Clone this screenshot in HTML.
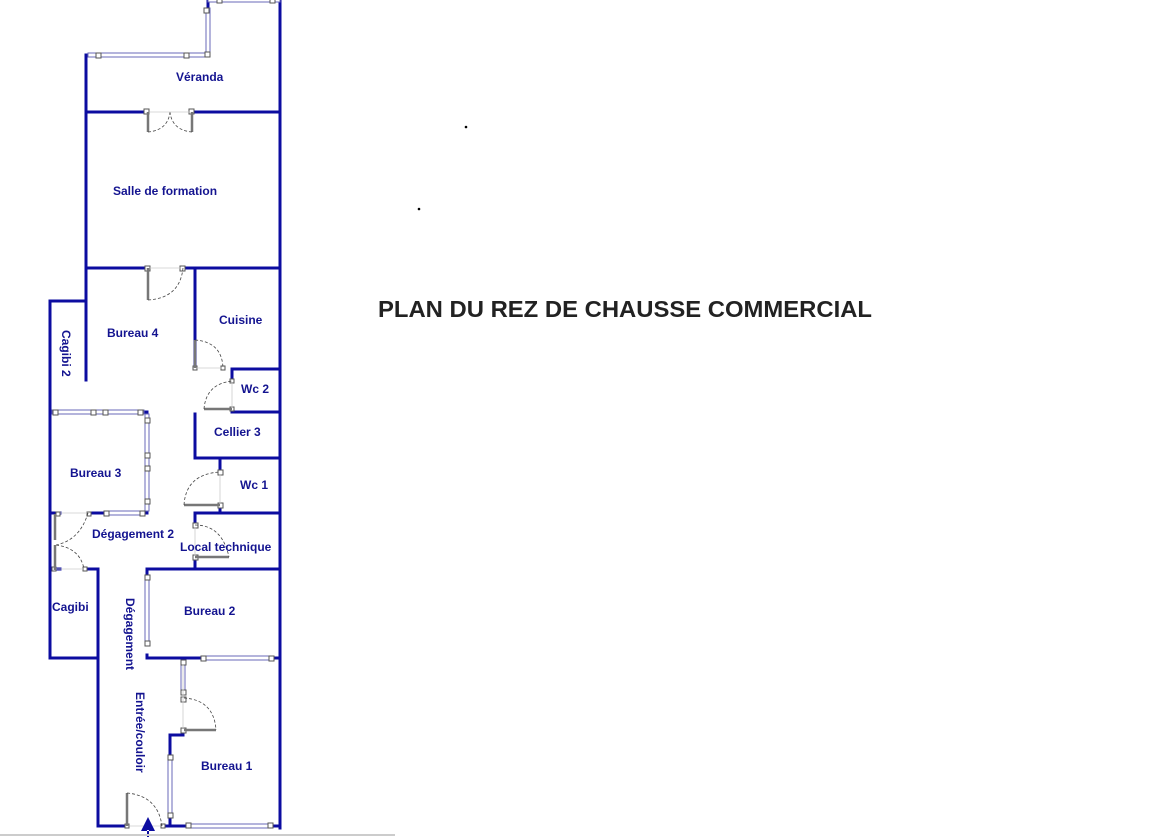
<!DOCTYPE html>
<html><head><meta charset="utf-8"><style>
html,body{margin:0;padding:0;background:#fff;width:1152px;height:837px;overflow:hidden}
svg{display:block}
.w{stroke:#0c0ca0;stroke-width:3;fill:none;stroke-linecap:square}
.win{fill:#fff;stroke:#6a6ab8;stroke-width:1}
.sq{fill:#fff;stroke:#555;stroke-width:1}
.leaf{stroke:#777;stroke-width:2.5;fill:none}
.arc{stroke:#444;stroke-width:0.8;fill:none;stroke-dasharray:3,2}
.thin{stroke:#ccc;stroke-width:0.8}
text.l{font-family:"Liberation Sans",Arial,sans-serif;font-weight:bold;font-size:12px;fill:#141490}
</style></head><body>
<svg width="1152" height="837" viewBox="0 0 1152 837">
<path class="w" d="M280,0 V828 M208,0 V55 M86,55 V380 M86,112 H147 M192,112 H280 M86,268 H148 M183,268 H280
M195,268 V368 M232,369 H280 M232,369 V381 M232,409 V412 H280 M195,414 V458 M195,458 H280 M220,458 V472 M220,505 V513
M195,513 H280 M195,513 V525 M195,557 V569 M147,569 H280 M147,569 V575 M147,655 V658 H280 M184,658 V665
M183,730 V735 H170 V826 M98,826 H128 M162,826 H280
M50,301 H86 M50,301 V658 H98 M98,569 V826 M88,569 H98 M50,569 H60
M50,513 H60 M88,513 H147 M147,412 V513 M50,412 H147"/>
<g>
<rect class="win" x="208" y="-2" width="72" height="4"/>
<rect class="win" x="88" y="53" width="120" height="4"/>
<rect class="win" x="206" y="8" width="4" height="47"/>
<rect class="win" x="52" y="410" width="92" height="4"/>
<rect class="win" x="145" y="414" width="4" height="97"/>
<rect class="win" x="105" y="511" width="40" height="4"/>
<rect class="win" x="145" y="578" width="4" height="66"/>
<rect class="win" x="203" y="656" width="70" height="4"/>
<rect class="win" x="181" y="662" width="4" height="30"/>
<rect class="win" x="168" y="758" width="4" height="58"/>
<rect class="win" x="188" y="824" width="84" height="4"/>
</g>
<g class="sq">
<rect x="217" y="-2" width="5" height="5"/><rect x="270" y="-2" width="5" height="5"/>
<rect x="204" y="8" width="5" height="5"/><rect x="205" y="52" width="5" height="5"/>
<rect x="96" y="53" width="5" height="5"/><rect x="184" y="53" width="5" height="5"/>
<rect x="144" y="109" width="5" height="5"/><rect x="189" y="109" width="5" height="5"/>
<rect x="145" y="266" width="5" height="5"/><rect x="180" y="266" width="5" height="5"/>
<rect x="53" y="410" width="5" height="5"/><rect x="91" y="410" width="5" height="5"/><rect x="103" y="410" width="5" height="5"/><rect x="138" y="410" width="5" height="5"/>
<rect x="145" y="418" width="5" height="5"/><rect x="145" y="453" width="5" height="5"/><rect x="145" y="466" width="5" height="5"/><rect x="145" y="499" width="5" height="5"/>
<rect x="104" y="511" width="5" height="5"/><rect x="140" y="511" width="5" height="5"/>
<rect x="145" y="575" width="5" height="5"/><rect x="145" y="641" width="5" height="5"/>
<rect x="201" y="656" width="5" height="5"/><rect x="269" y="656" width="5" height="5"/>
<rect x="181" y="660" width="5" height="5"/><rect x="181" y="690" width="5" height="5"/><rect x="181" y="697" width="5" height="5"/><rect x="181" y="728" width="5" height="5"/>
<rect x="168" y="755" width="5" height="5"/><rect x="168" y="813" width="5" height="5"/>
<rect x="186" y="823" width="5" height="5"/><rect x="268" y="823" width="5" height="5"/>
<rect x="193" y="366" width="4" height="4"/><rect x="221" y="366" width="4" height="4"/>
<rect x="230" y="379" width="4" height="4"/><rect x="230" y="407" width="4" height="4"/>
<rect x="218" y="470" width="5" height="5"/><rect x="218" y="503" width="5" height="5"/>
<rect x="193" y="523" width="5" height="5"/><rect x="193" y="555" width="5" height="5"/>
<rect x="125" y="824" width="4" height="4"/><rect x="161" y="824" width="4" height="4"/>
<rect x="56" y="512" width="4" height="4"/><rect x="87" y="512" width="4" height="4"/>
<rect x="52" y="567" width="4" height="4"/><rect x="83" y="567" width="4" height="4"/>
</g>
<path class="leaf" d="M148,112 V132 M192,112 V132 M148,268 V300 M195,368 V340 M232,409 H204 M220,505 H184 M195,557 H229 M184,730 H216 M127,826 V793 M55,514 V540 M55,545 V570"/>
<path class="arc" d="M148,132 Q168,130 170,112 M192,132 Q172,130 170,112 M148,300 Q180,298 183,268 M195,340 Q222,342 223,368 M204,409 Q206,384 232,381 M184,505 Q186,474 220,472 M195,525 Q222,525 229,557 M184,698 Q214,700 216,730 M127,793 Q158,796 162,826 M88,513 Q80,540 56,545 M56,545 Q80,548 84,569"/>
<path class="thin" d="M150,112 H190 M150,268 H181 M197,368 H222 M232,383 V408 M220,474 V504 M195,527 V556 M183,664 V728 M130,826 H160 M60,513 H87 M56,569 H83"/>
<path d="M148,817 L141,831 H155 Z M147,830 H149 V837 H147 Z" fill="#0c0ca0"/>
<line x1="0" y1="835" x2="395" y2="835" stroke="#ccc" stroke-width="2"/>
<circle cx="466" cy="127" r="1.3" fill="#000"/><circle cx="419" cy="209" r="1.3" fill="#000"/>
<text class="l" x="176" y="81">Véranda</text>
<text class="l" x="113" y="195">Salle de formation</text>
<text class="l" x="107" y="337">Bureau 4</text>
<text class="l" x="219" y="324">Cuisine</text>
<text class="l" x="241" y="393">Wc 2</text>
<text class="l" x="214" y="436">Cellier 3</text>
<text class="l" x="70" y="477">Bureau 3</text>
<text class="l" x="240" y="489">Wc 1</text>
<text class="l" x="92" y="538">Dégagement 2</text>
<text class="l" x="180" y="551">Local technique</text>
<text class="l" x="52" y="611">Cagibi</text>
<text class="l" x="184" y="615">Bureau 2</text>
<text class="l" x="201" y="770">Bureau 1</text>
<text class="l" transform="translate(62,330) rotate(90)">Cagibi 2</text>
<text class="l" transform="translate(126,598) rotate(90)">Dégagement</text>
<text class="l" transform="translate(136,692) rotate(90)">Entrée/couloir</text>
<text x="378" y="317" font-family="Liberation Sans,Arial,sans-serif" font-weight="bold" font-size="23" fill="#222" textLength="494" lengthAdjust="spacingAndGlyphs">PLAN DU REZ DE CHAUSSE COMMERCIAL</text>
</svg>
</body></html>
